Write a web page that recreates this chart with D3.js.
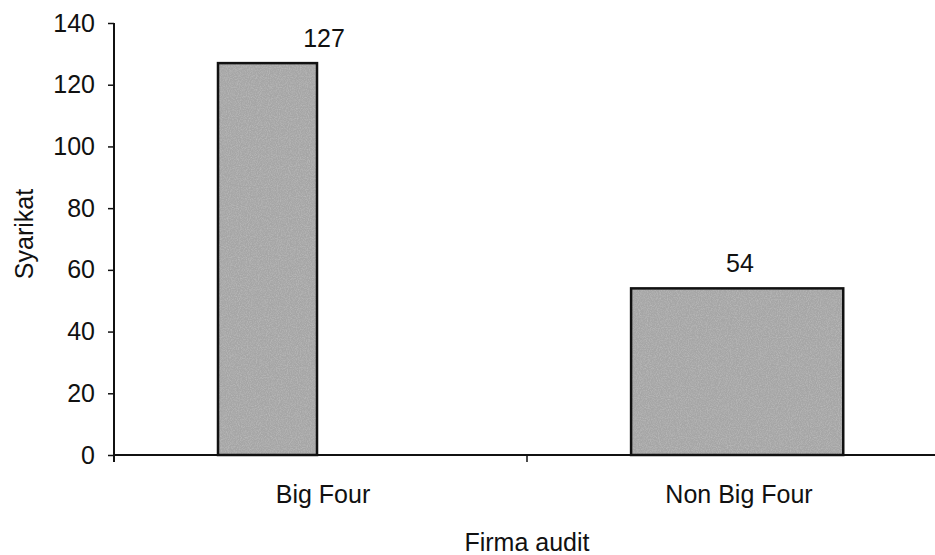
<!DOCTYPE html>
<html>
<head>
<meta charset="utf-8">
<script src="https://cdn.jsdelivr.net/npm/d3@7"></script>
<style>
  body { margin: 0; background: #fff; }
  text { font-family: "Liberation Sans", Arial, sans-serif; fill: #111; }
</style>
</head>
<body>
<script>
var categories = ["Big Four", "Non Big Four"];
var values = [127, 54];
var yTicks = [0, 20, 40, 60, 80, 100, 120, 140];

var w = 935;
var h = 555;

var margin = {
  top: 23,
  left: 114,
  bottom: 100,
  right: 0
}

var height = h - margin.top - margin.bottom;
var fontSize = 25;

// bar geometry within each band (fraction of band width)
var barOffset = [0.25, 0.243];
var barWidth = [0.238, 0.51];

var svg = d3.select("body")
  .append("svg")
  .attr("width", w)
  .attr("height", h)

// scanned-paper grain on the bars
var filter = svg.append("defs").append("filter")
  .attr("id", "grain")
  .attr("x", 0).attr("y", 0).attr("width", 1).attr("height", 1);
filter.append("feTurbulence")
  .attr("type", "fractalNoise")
  .attr("baseFrequency", 0.9)
  .attr("numOctaves", 2)
  .attr("seed", 3)
  .attr("result", "noise");
filter.append("feColorMatrix")
  .attr("in", "noise")
  .attr("type", "matrix")
  .attr("values", "0 0 0 0 0.55  0 0 0 0 0.55  0 0 0 0 0.55  1.2 0 0 0 -0.45")
  .attr("result", "speck");
filter.append("feComposite")
  .attr("in", "speck")
  .attr("in2", "SourceGraphic")
  .attr("operator", "in")
  .attr("result", "speckIn");
var merge = filter.append("feMerge");
merge.append("feMergeNode").attr("in", "SourceGraphic");
merge.append("feMergeNode").attr("in", "speckIn");

var g = svg.append("g")
  .attr("transform", "translate(" + margin.left + ", " + margin.top + ")");

var x = d3.scaleBand()
  .domain(categories)
  .range([0, 832])
  .padding(0);

var y = d3.scaleLinear()
  .domain([0, 140])
  .range([height, 0]);

var bw = x.bandwidth();

// bars
g.selectAll(".bar")
  .data(values)
  .enter()
  .append("rect")
  .classed("bar", true)
  .attr("x", function(d, i) { return x(categories[i]) + bw * barOffset[i]; })
  .attr("y", function(d) { return y(d); })
  .attr("width", function(d, i) { return bw * barWidth[i]; })
  .attr("height", function(d) { return height - y(d); })
  .attr("fill", "#a6a6a6")
  .attr("filter", "url(#grain)");

g.selectAll(".bar-edge")
  .data(values)
  .enter()
  .append("rect")
  .classed("bar-edge", true)
  .attr("x", function(d, i) { return x(categories[i]) + bw * barOffset[i]; })
  .attr("y", function(d) { return y(d); })
  .attr("width", function(d, i) { return bw * barWidth[i]; })
  .attr("height", function(d) { return height - y(d); })
  .attr("fill", "none")
  .attr("stroke", "#111")
  .attr("stroke-width", 2.5);

// value labels
g.selectAll(".val")
  .data(values)
  .enter()
  .append("text")
  .attr("x", function(d, i) { return x(categories[i]) + bw / 2 + 2; })
  .attr("y", function(d) { return y(d) - 16; })
  .attr("text-anchor", "middle")
  .attr("font-size", fontSize)
  .text(function(d) { return d; });

// y axis
var yAxis = d3.axisLeft(y)
  .tickValues(yTicks)
  .tickSize(6)
  .tickPadding(13);

var ya = g.append("g").call(yAxis);
ya.select(".domain").attr("stroke", "#111").attr("stroke-width", 2)
  .attr("d", "M0," + (height + 7) + "V0");
ya.selectAll(".tick line").attr("stroke", "#111").attr("stroke-width", 1.5);
ya.selectAll(".tick text").attr("font-size", fontSize)
  .attr("font-family", "Liberation Sans, Arial, sans-serif").attr("fill", "#111");

// x axis
var xAxis = d3.axisBottom(x)
  .tickSize(0)
  .tickPadding(30);

var xa = g.append("g")
  .attr("transform", "translate(0," + height + ")")
  .call(xAxis);
xa.select(".domain").attr("stroke", "#111").attr("stroke-width", 2)
  .attr("d", "M0,0H" + (w - margin.left));
xa.selectAll(".tick text").attr("font-size", fontSize)
  .attr("font-family", "Liberation Sans, Arial, sans-serif").attr("fill", "#111")
  .attr("dx", 1);

// boundary tick between categories
xa.append("line")
  .attr("x1", x(categories[1]) - 3)
  .attr("x2", x(categories[1]) - 3)
  .attr("y1", 0)
  .attr("y2", 7)
  .attr("stroke", "#111")
  .attr("stroke-width", 1.5);

// axis titles
svg.append("text")
  .attr("x", 527)
  .attr("y", 551)
  .attr("text-anchor", "middle")
  .attr("font-size", fontSize)
  .text("Firma audit");

svg.append("text")
  .attr("transform", "translate(33," + 234 + ") rotate(-90)")
  .attr("text-anchor", "middle")
  .attr("font-size", fontSize)
  .text("Syarikat");
</script>
</body>
</html>
